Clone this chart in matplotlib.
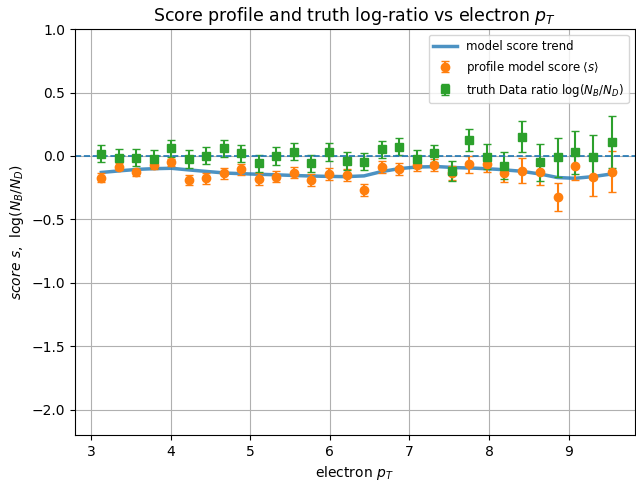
import matplotlib
matplotlib.use("Agg")
import matplotlib.pyplot as plt
import numpy as np

# bin centres (electron pT)
pt = [3.13, 3.35, 3.57, 3.79, 4.01, 4.23, 4.45, 4.67, 4.89, 5.11,
      5.33, 5.55, 5.77, 5.99, 6.21, 6.43, 6.65, 6.87, 7.09, 7.31,
      7.53, 7.75, 7.97, 8.19, 8.42, 8.64, 8.86, 9.08, 9.30, 9.54]

score = [-0.17, -0.084, -0.13, -0.07, -0.05, -0.19, -0.176, -0.137, -0.105, -0.18,
         -0.163, -0.131, -0.19, -0.142, -0.15, -0.268, -0.084, -0.102, -0.07, -0.07,
         -0.137, -0.066, -0.066, -0.137, -0.115, -0.129, -0.32, -0.076, -0.168, -0.123]
score_err = [0.038, 0.03, 0.03, 0.03, 0.03, 0.04, 0.045, 0.045, 0.042, 0.046,
             0.046, 0.046, 0.05, 0.05, 0.05, 0.05, 0.048, 0.048, 0.046, 0.05,
             0.055, 0.066, 0.062, 0.068, 0.096, 0.1, 0.11, 0.11, 0.144, 0.164]

ratio = [0.016, -0.013, -0.013, -0.026, 0.06, -0.026, 0.003, 0.06, 0.02, -0.058,
         0.0, 0.034, -0.058, 0.034, -0.04, -0.045, 0.052, 0.074, -0.026, 0.02,
         -0.118, 0.126, -0.005, -0.076, 0.152, -0.05, -0.01, 0.029, -0.01, 0.108]
ratio_err = [0.067, 0.07, 0.065, 0.07, 0.068, 0.07, 0.068, 0.068, 0.068, 0.068,
             0.068, 0.068, 0.068, 0.07, 0.07, 0.068, 0.068, 0.068, 0.07, 0.07,
             0.08, 0.087, 0.1, 0.105, 0.12, 0.147, 0.153, 0.17, 0.172, 0.206]

# smooth trend
trend_x = [3.13, 3.4, 3.6, 3.8, 4.01, 4.23, 4.45, 4.7, 5.0, 5.3, 5.6, 5.9, 6.2,
           6.43, 6.65, 6.87, 7.09, 7.35, 7.6, 7.85, 8.1, 8.4, 8.64, 8.86, 9.08, 9.3, 9.54]
trend_y = [-0.13, -0.115, -0.105, -0.1, -0.097, -0.11, -0.122, -0.135, -0.142, -0.148,
           -0.155, -0.16, -0.163, -0.157, -0.123, -0.1, -0.087, -0.084, -0.092, -0.097,
           -0.105, -0.12, -0.142, -0.17, -0.176, -0.163, -0.142]

fig, ax = plt.subplots(figsize=(6.36, 4.86), dpi=100)
fig.subplots_adjust(left=0.118, right=0.998, top=0.94, bottom=0.105)

ax.plot(trend_x, trend_y, color="C0", lw=2.5, alpha=0.8, label="model score trend")
ax.errorbar(pt, score, yerr=score_err, fmt="o", color="C1", ms=6, capsize=3,
            label=r"profile model score $\langle s\rangle$")
ax.errorbar(pt, ratio, yerr=ratio_err, fmt="s", color="C2", ms=6, capsize=3,
            label=r"truth Data ratio log($N_B/N_D$)")
ax.axhline(0, color="C0", ls="--", lw=1.2)

ax.set_xlim(2.8, 9.83)
ax.set_ylim(-2.2, 1.0)
ax.grid(True)
ax.set_xlabel(r"electron $p_T$")
ax.set_ylabel(r"$score\ s$,  log($N_B/N_D$)")
ax.set_title(r"Score profile and truth log-ratio vs electron $p_T$", fontsize=12.5)
ax.legend(loc="upper right", fontsize=8.5)

fig.savefig("out.png")
